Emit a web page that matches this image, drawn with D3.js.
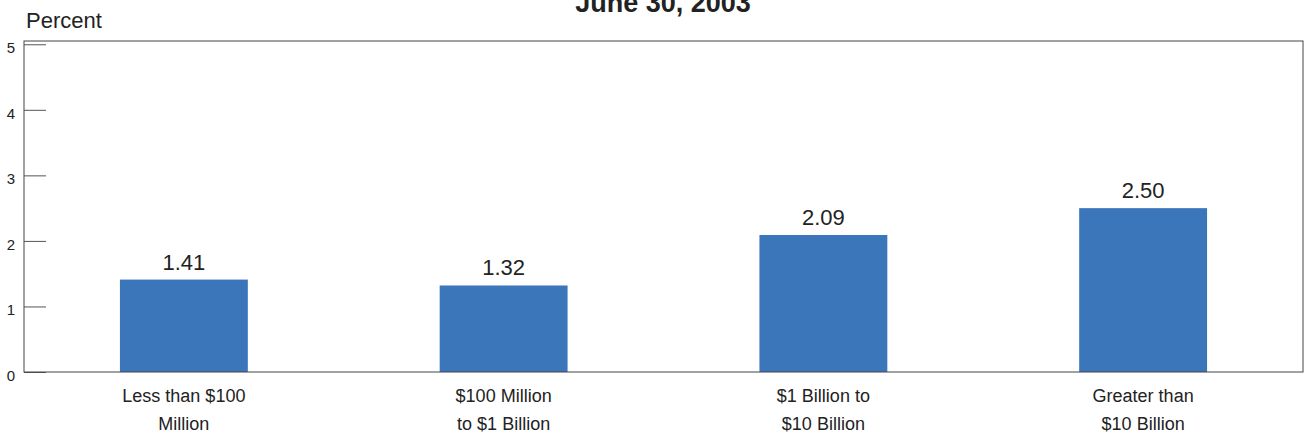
<!DOCTYPE html>
<html>
<head>
<meta charset="utf-8">
<script src="https://cdn.jsdelivr.net/npm/d3@7"></script>
<style>
  body { margin: 0; background: #fff; }
  svg { display: block; font-family: "Liberation Sans", Arial, sans-serif; }
</style>
</head>
<body>
<div id="chart"></div>
<script>
// chart data
const categories = [
  ['Less than $100', 'Million'],
  ['$100 Million', 'to $1 Billion'],
  ['$1 Billion to', '$10 Billion'],
  ['Greater than', '$10 Billion']
];
const values = [1.41, 1.32, 2.09, 2.50];
const yTicks = [0, 1, 2, 3, 4, 5];
const title = 'June 30, 2003';
const yLabel = 'Percent';

const width = 1304;
const height = 435;
const margin = {top: 41, right: 1, bottom: 63, left: 24};
const innerW = width - margin.left - margin.right;
const innerH = height - margin.top - margin.bottom;

const svg = d3.select('#chart')
  .append('svg')
  .attr('width', width)
  .attr('height', height);

const x = d3.scaleBand()
  .domain(d3.range(values.length))
  .range([0, innerW])
  .paddingInner(0.6)
  .paddingOuter(0.3);

const y = d3.scaleLinear()
  .domain([0, 5.05])
  .range([innerH, 0]);

const g = svg.append('g')
  .attr('transform', `translate(${margin.left},${margin.top})`);

// bars
g.selectAll('rect.bar')
  .data(values)
  .enter()
  .append('rect')
  .attr('class', 'bar')
  .attr('x', (d, i)=> x(i))
  .attr('width', x.bandwidth())
  .attr('y', (d)=> y(d))
  .attr('height', (d)=> innerH - y(d))
  .attr('fill', '#3b76bb');

// value labels
g.selectAll('text.val')
  .data(values)
  .enter()
  .append('text')
  .attr('class', 'val')
  .attr('x', (d, i)=> x(i) + x.bandwidth() / 2)
  .attr('y', (d)=> y(d) - 10)
  .attr('text-anchor', 'middle')
  .attr('font-size', 22)
  .attr('fill', '#222')
  .text((d)=> d3.format('.2f')(d));

// y ticks drawn inside the frame
const yAxis = d3.axisRight(y)
  .tickValues(yTicks)
  .tickSize(22)
  .tickFormat('');
g.append('g')
  .call(yAxis)
  .call((sel)=> sel.select('.domain').remove())
  .call((sel)=> sel.selectAll('.tick line').attr('stroke', '#555'));

g.selectAll('text.ytick')
  .data(yTicks)
  .enter()
  .append('text')
  .attr('class', 'ytick')
  .attr('x', -9)
  .attr('y', (d)=> y(d) + 9)
  .attr('text-anchor', 'end')
  .attr('font-size', 15)
  .attr('fill', '#222')
  .text((d)=> d);

// frame
g.append('rect')
  .attr('width', innerW)
  .attr('height', innerH)
  .attr('fill', 'none')
  .attr('stroke', '#444')
  .attr('stroke-width', 1);

// category labels
const cat = g.selectAll('text.cat')
  .data(categories)
  .enter()
  .append('text')
  .attr('class', 'cat')
  .attr('text-anchor', 'middle')
  .attr('font-size', 18)
  .attr('fill', '#222');
cat.selectAll('tspan')
  .data((d, i)=> d.map((line, j)=> ({line, i, j})))
  .enter()
  .append('tspan')
  .attr('x', (d)=> x(d.i) + x.bandwidth() / 2)
  .attr('y', (d)=> innerH + 30 + d.j * 28)
  .text((d)=> d.line);

// title and axis label
svg.append('text')
  .attr('x', 663)
  .attr('y', 12)
  .attr('text-anchor', 'middle')
  .attr('font-size', 27)
  .attr('font-weight', 'bold')
  .attr('fill', '#222')
  .text(title);

svg.append('text')
  .attr('x', 26)
  .attr('y', 28)
  .attr('font-size', 22)
  .attr('fill', '#222')
  .text(yLabel);
</script>
</body>
</html>
